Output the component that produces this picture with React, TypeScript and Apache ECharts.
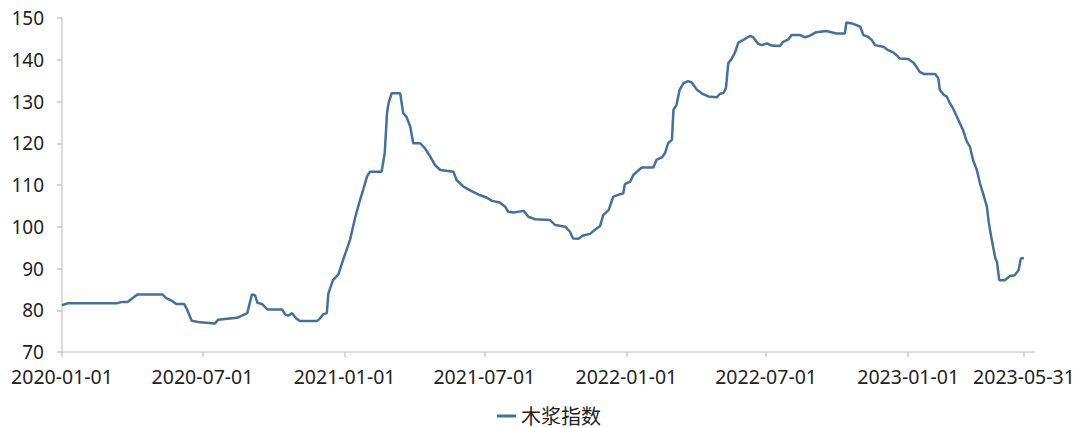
import React, { useEffect, useRef } from "react";
import * as echarts from "echarts";

const seriesName = "木浆指数";

const dates: string[] = [
  "2020-01-01", "2020-01-09", "2020-03-13", "2020-03-19", "2020-03-26", "2020-04-02", "2020-04-08",
  "2020-05-10", "2020-05-15", "2020-05-22", "2020-05-28", "2020-06-07", "2020-06-11", "2020-06-17",
  "2020-06-28", "2020-07-17", "2020-07-21", "2020-07-30", "2020-08-15", "2020-08-28", "2020-09-03",
  "2020-09-07", "2020-09-10", "2020-09-16", "2020-09-23", "2020-10-12", "2020-10-16", "2020-10-20",
  "2020-10-25", "2020-10-30", "2020-11-04", "2020-11-26", "2020-11-30", "2020-12-04", "2020-12-09",
  "2020-12-11", "2020-12-17", "2020-12-24", "2020-12-30", "2021-01-08", "2021-01-15", "2021-01-21",
  "2021-01-25", "2021-01-30", "2021-02-03", "2021-02-18", "2021-02-22", "2021-02-25", "2021-02-27",
  "2021-03-03", "2021-03-14", "2021-03-18", "2021-03-22", "2021-03-27", "2021-03-31", "2021-04-09",
  "2021-04-15", "2021-04-22", "2021-04-28", "2021-05-05", "2021-05-22", "2021-05-26", "2021-06-04",
  "2021-06-14", "2021-06-25", "2021-07-04", "2021-07-11", "2021-07-21", "2021-07-28", "2021-08-01",
  "2021-08-08", "2021-08-21", "2021-08-27", "2021-09-05", "2021-09-24", "2021-10-01", "2021-10-14",
  "2021-10-20", "2021-10-24", "2021-10-31", "2021-11-06", "2021-11-15", "2021-11-21", "2021-11-28",
  "2021-12-02", "2021-12-09", "2021-12-15", "2021-12-24", "2021-12-28", "2021-12-30", "2022-01-06",
  "2022-01-10", "2022-01-16", "2022-01-21", "2022-02-05", "2022-02-09", "2022-02-16", "2022-02-20",
  "2022-02-24", "2022-03-01", "2022-03-03", "2022-03-07", "2022-03-11", "2022-03-16", "2022-03-22",
  "2022-03-27", "2022-04-02", "2022-04-09", "2022-04-17", "2022-04-28", "2022-05-02", "2022-05-07",
  "2022-05-10", "2022-05-13", "2022-05-17", "2022-05-22", "2022-05-26", "2022-06-01", "2022-06-10",
  "2022-06-14", "2022-06-21", "2022-06-25", "2022-07-02", "2022-07-08", "2022-07-19", "2022-07-23",
  "2022-07-30", "2022-08-03", "2022-08-14", "2022-08-20", "2022-08-26", "2022-09-04", "2022-09-17",
  "2022-09-30", "2022-10-11", "2022-10-13", "2022-10-20", "2022-10-26", "2022-10-31", "2022-11-04",
  "2022-11-10", "2022-11-15", "2022-11-19", "2022-11-30", "2022-12-06", "2022-12-13", "2022-12-17",
  "2022-12-21", "2023-01-01", "2023-01-08", "2023-01-11", "2023-01-16", "2023-01-21", "2023-02-05",
  "2023-02-09", "2023-02-11", "2023-02-16", "2023-02-20", "2023-02-24", "2023-02-28", "2023-03-05",
  "2023-03-09", "2023-03-13", "2023-03-18", "2023-03-22", "2023-03-26", "2023-03-31", "2023-04-04",
  "2023-04-08", "2023-04-13", "2023-04-15", "2023-04-17", "2023-04-21", "2023-04-24", "2023-04-26",
  "2023-04-29", "2023-05-06", "2023-05-13", "2023-05-19", "2023-05-24", "2023-05-27", "2023-05-31",
];

const values: number[] = [
  81.2, 81.7, 81.7, 82.0, 82.0, 83.0, 83.8,
  83.8, 82.9, 82.3, 81.5, 81.5, 80.2, 77.5,
  77.1, 76.8, 77.7, 77.9, 78.2, 79.3, 83.8,
  83.6, 81.8, 81.5, 80.2, 80.2, 79.0, 78.7,
  79.3, 78.1, 77.4, 77.4, 78.0, 79.0, 79.3,
  84.0, 87.2, 88.6, 92.0, 96.8, 102.4, 106.4,
  108.8, 112.0, 113.2, 113.2, 117.6, 127.2, 129.6,
  132.0, 132.0, 127.2, 126.4, 124.0, 120.0, 120.0,
  118.8, 116.8, 114.8, 113.6, 113.2, 111.2, 109.6,
  108.6, 107.6, 107.0, 106.2, 105.8, 104.8, 103.6,
  103.4, 103.8, 102.4, 101.8, 101.6, 100.4, 100.0,
  98.8, 97.2, 97.1, 97.9, 98.3, 99.2, 100.2,
  102.8, 104.0, 107.2, 107.8, 108.0, 110.2, 110.8,
  112.4, 113.4, 114.2, 114.2, 116.0, 116.6, 117.6,
  120.0, 120.8, 128.0, 129.2, 132.8, 134.4, 134.9,
  134.5, 132.9, 131.9, 131.2, 131.0, 131.8, 132.1,
  133.2, 139.2, 140.1, 141.9, 144.1, 144.7, 145.7,
  145.4, 143.8, 143.5, 143.9, 143.4, 143.3, 144.3,
  144.9, 145.9, 145.9, 145.4, 145.7, 146.6, 146.9,
  146.3, 146.3, 148.9, 148.7, 148.3, 147.9, 145.9,
  145.5, 144.7, 143.5, 143.1, 142.3, 141.7, 141.1,
  140.3, 140.2, 139.3, 138.5, 137.1, 136.6, 136.6,
  135.6, 132.8, 131.6, 131.2, 129.6, 128.4, 126.4,
  124.8, 123.2, 120.4, 119.2, 116.0, 113.6, 110.4,
  108.0, 104.8, 101.6, 99.2, 95.2, 92.4, 91.6,
  87.2, 87.2, 88.2, 88.4, 89.6, 92.4, 92.5,
];

const xTickLabels: string[] = [
  "2020-01-01", "2020-07-01", "2021-01-01", "2021-07-01",
  "2022-01-01", "2022-07-01", "2023-01-01", "2023-05-31",
];

const xMin = "2020-01-01";
const xMax = "2023-06-13";

const FONT = "'Noto Sans', 'Noto Sans CJK SC', sans-serif";

const toMs = (s: string) => Date.UTC(+s.slice(0, 4), +s.slice(5, 7) - 1, +s.slice(8, 10));

export default function App() {
  const ref = useRef<HTMLDivElement>(null);

  useEffect(() => {
    if (!ref.current) return;
    const chart = echarts.init(ref.current, undefined, { renderer: "svg" });
    const tickMs = xTickLabels.map(toMs);
    const labelFor = (v: number) => {
      let best = 0;
      let bestD = Infinity;
      tickMs.forEach((t, i) => {
        const d = Math.abs(t - v);
        if (d < bestD) {
          bestD = d;
          best = i;
        }
      });
      return xTickLabels[best];
    };

    chart.setOption({
      animation: false,
      textStyle: { fontFamily: FONT },
      grid: { left: 62, right: 48, top: 18, bottom: 76, containLabel: false },
      legend: {
        data: [{ name: seriesName, icon: "rect" }],
        left: 497,
        top: 406,
        padding: 0,
        itemWidth: 19,
        itemHeight: 3,
        itemGap: 9,
        textStyle: { fontSize: 20, color: "#222", fontFamily: FONT, lineHeight: 20 },
      },
      xAxis: {
        type: "value",
        min: toMs(xMin),
        max: toMs(xMax),
        axisLine: { show: true, lineStyle: { color: "#d0d0d0", width: 1.5 } },
        axisTick: {
          show: true,
          length: 5,
          customValues: tickMs,
          lineStyle: { color: "#c8c8c8", width: 1.5 },
        },
        splitLine: { show: false },
        axisLabel: {
          customValues: tickMs,
          formatter: (v: number) => labelFor(v),
          fontSize: 19.5,
          color: "#222",
          margin: 15,
          hideOverlap: false,
          fontFamily: FONT,
        },
      },
      yAxis: {
        type: "value",
        min: 70,
        max: 150,
        interval: 10,
        axisLine: { show: true, lineStyle: { color: "#d0d0d0", width: 1.5 } },
        axisTick: { show: true, length: 5, lineStyle: { color: "#c8c8c8", width: 1.5 } },
        splitLine: { show: false },
        axisLabel: {
          fontSize: 19,
          color: "#222",
          margin: 18,
          fontFamily: FONT,
        },
      },
      series: [
        {
          name: seriesName,
          type: "line",
          data: dates.map((d, i) => [toMs(d), values[i]]),
          showSymbol: false,
          symbol: "none",
          lineStyle: { color: "#44709f", width: 2.5 },
          itemStyle: { color: "#44709f" },
        },
      ],
    });
    return () => chart.dispose();
  }, []);

  return (
    <div
      ref={ref}
      style={{ position: "absolute", left: 0, top: 0, width: 1082, height: 428 }}
    />
  );
}
